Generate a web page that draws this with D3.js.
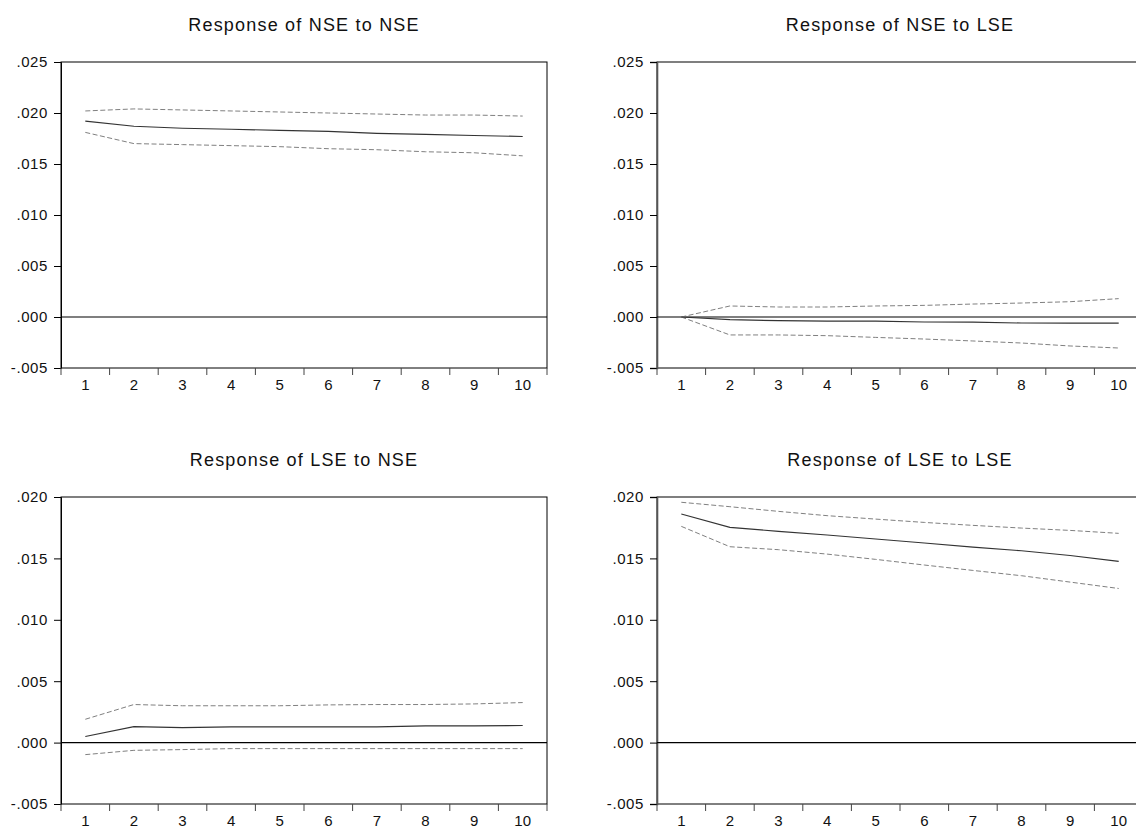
<!DOCTYPE html>
<html>
<head>
<meta charset="utf-8">
<script src="https://cdn.jsdelivr.net/npm/d3@7"></script>
<style>
    body { margin: 0; background: #fff; }
    text { font-family: "Liberation Sans", Arial, sans-serif; fill: #111; }
</style>
</head>
<body>
<div id="irf-vis"></div>
<script>
// impulse response periods
const periods = [1, 2, 3, 4, 5, 6, 7, 8, 9, 10];

const yTicksTop = [-0.005, 0.000, 0.005, 0.010, 0.015, 0.020, 0.025];
const yTicksBottom = [-0.005, 0.000, 0.005, 0.010, 0.015, 0.020];

// Response of NSE to NSE
const nseNseResp = [0.0192, 0.0187, 0.0185, 0.0184, 0.0183, 0.0182, 0.0180, 0.0179, 0.0178, 0.0177];
const nseNseUpper = [0.0202, 0.0204, 0.0203, 0.0202, 0.0201, 0.0200, 0.0199, 0.0198, 0.0198, 0.0197];
const nseNseLower = [0.0181, 0.0170, 0.0169, 0.0168, 0.0167, 0.0165, 0.0164, 0.0162, 0.0161, 0.0158];

// Response of NSE to LSE
const nseLseResp = [0.0000, -0.00026, -0.00036, -0.0004, -0.0004, -0.00049, -0.0005, -0.00059, -0.0006, -0.0006];
const nseLseUpper = [0.0000, 0.00108, 0.00098, 0.00098, 0.00108, 0.00114, 0.00127, 0.00137, 0.0015, 0.0018];
const nseLseLower = [0.0000, -0.00176, -0.00176, -0.00183, -0.0020, -0.00216, -0.00235, -0.00255, -0.00284, -0.00304];

// Response of LSE to NSE
const lseNseResp = [0.00049, 0.0013, 0.00122, 0.00128, 0.00128, 0.00128, 0.00128, 0.00136, 0.00136, 0.00139];
const lseNseUpper = [0.0019, 0.0031, 0.0030, 0.0030, 0.0030, 0.00307, 0.0031, 0.0031, 0.00315, 0.00326];
const lseNseLower = [-0.00098, -0.00063, -0.00057, -0.00049, -0.00049, -0.00049, -0.00049, -0.00049, -0.00049, -0.00049];

// Response of LSE to LSE
const lseLseResp = [0.01861, 0.01753, 0.0172, 0.0169, 0.01658, 0.01625, 0.01592, 0.01562, 0.01524, 0.01476];
const lseLseUpper = [0.01957, 0.01921, 0.01883, 0.01848, 0.0182, 0.01793, 0.01769, 0.01747, 0.01728, 0.01704];
const lseLseLower = [0.01761, 0.01595, 0.01571, 0.01535, 0.01492, 0.01446, 0.01402, 0.01359, 0.01307, 0.01255];

const panels = [
    { title: 'Response of NSE to NSE', resp: nseNseResp, upper: nseNseUpper, lower: nseNseLower, ticks: yTicksTop,
      left: 61, top: 62, bottom: 368 },
    { title: 'Response of NSE to LSE', resp: nseLseResp, upper: nseLseUpper, lower: nseLseLower, ticks: yTicksTop,
      left: 657, top: 62, bottom: 368 },
    { title: 'Response of LSE to NSE', resp: lseNseResp, upper: lseNseUpper, lower: lseNseLower, ticks: yTicksBottom,
      left: 61, top: 497, bottom: 804 },
    { title: 'Response of LSE to LSE', resp: lseLseResp, upper: lseLseUpper, lower: lseLseLower, ticks: yTicksBottom,
      left: 657, top: 497, bottom: 804 }
];

const panelWidth = 486;
// eviews style: ".025", "-.005"
const fmt = v => d3.format('.3f')(v).replace('\u2212', '-').replace(/^(-?)0\./, '$1.');

const svg = d3.select('#irf-vis')
    .append('svg')
    .attr('width', 1136)
    .attr('height', 830)
    ;

panels.forEach((p, idx) => {
    let x = d3.scaleBand()
        .domain(periods)
        .range([p.left, p.left + panelWidth])
        .padding(0)
        ;
    let y = d3.scaleLinear()
        .domain([d3.min(p.ticks), d3.max(p.ticks)])
        .range([p.bottom, p.top])
        ;

    let g = svg.append('g').attr('class', `panel panel${idx}`);

    // title
    g.append('text')
        .attr('x', p.left + panelWidth / 2)
        .attr('y', p.top - 31)
        .attr('text-anchor', 'middle')
        .style('font-size', '18px')
        .style('letter-spacing', '1.2px')
        .text(p.title)
        ;

    // frame
    g.append('rect')
        .attr('x', p.left)
        .attr('y', p.top)
        .attr('width', panelWidth)
        .attr('height', p.bottom - p.top)
        .attr('fill', 'none')
        .attr('stroke', '#000')
        .attr('stroke-width', 1)
        ;

    // y axis ticks + labels
    let yAxis = d3.axisLeft(y)
        .tickValues(p.ticks)
        .tickFormat(fmt)
        .tickSize(7)
        .tickPadding(6)
        ;
    let ya = g.append('g')
        .attr('transform', `translate(${p.left}, 0)`)
        .call(yAxis)
        ;
    ya.select('.domain').attr('stroke', idx % 2 ? '#555' : '#000').attr('stroke-width', idx % 2 ? 1.6 : 1);
    ya.selectAll('.tick line').attr('stroke', '#000');
    ya.selectAll('.tick text')
        .style('font-size', '15px')
        .style('letter-spacing', '0.6px')
        .attr('fill', '#111')
        .attr('font-family', null)
        ;

    // x axis: labels centred in bands, ticks on band boundaries
    let xAxis = d3.axisBottom(x)
        .tickSize(0)
        .tickPadding(11)
        ;
    let xa = g.append('g')
        .attr('transform', `translate(0, ${p.bottom})`)
        .call(xAxis)
        ;
    xa.select('.domain').remove();
    xa.selectAll('.tick text')
        .style('font-size', '15px')
        .attr('fill', '#111')
        .attr('font-family', null)
        ;
    g.selectAll('.xtick')
        .data(periods)
        .enter()
        .append('line')
        .attr('class', 'xtick')
        .attr('x1', d => x(d))
        .attr('x2', d => x(d))
        .attr('y1', p.bottom)
        .attr('y2', p.bottom + 7)
        .attr('stroke', '#444')
        ;
    g.append('line')
        .attr('x1', p.left + panelWidth)
        .attr('x2', p.left + panelWidth)
        .attr('y1', p.bottom)
        .attr('y2', p.bottom + 7)
        .attr('stroke', '#444')
        ;

    // zero line
    g.append('line')
        .attr('x1', p.left)
        .attr('x2', p.left + panelWidth)
        .attr('y1', y(0))
        .attr('y2', y(0))
        .attr('stroke', '#000')
        .attr('stroke-width', 1.2)
        ;

    let line = d3.line()
        .x((d, i) => x(periods[i]) + x.bandwidth() / 2)
        .y(d => y(d))
        ;

    // +/- 2 s.e. bands
    [p.upper, p.lower].forEach(band => {
        g.append('path')
            .datum(band)
            .attr('d', line)
            .attr('fill', 'none')
            .attr('stroke', '#808080')
            .attr('stroke-width', 1)
            .attr('stroke-dasharray', '5,2.5')
            ;
    });

    // response
    g.append('path')
        .datum(p.resp)
        .attr('d', line)
        .attr('fill', 'none')
        .attr('stroke', '#333')
        .attr('stroke-width', 1.1)
        ;
});
</script>
</body>
</html>
